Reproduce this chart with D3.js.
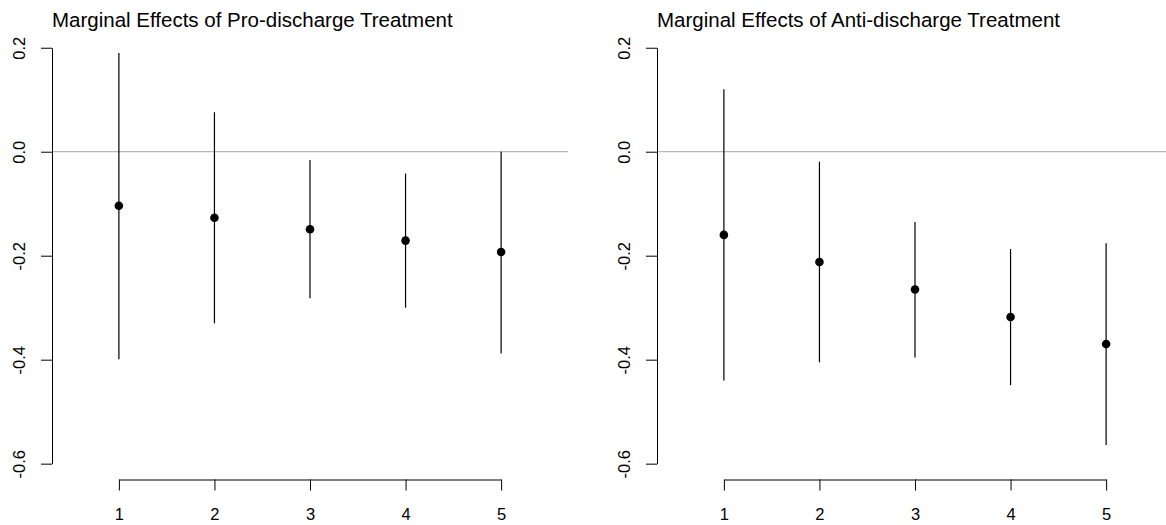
<!DOCTYPE html>
<html>
<head>
<meta charset="utf-8">
<script src="https://cdn.jsdelivr.net/npm/d3@7"></script>
<style>
  body { margin: 0; background: #fff; }
  svg { display: block; }
</style>
</head>
<body>
<div id="chart"></div>
<script>
// values
const groups = [1, 2, 3, 4, 5];
const proEst = [-0.104, -0.127, -0.149, -0.171, -0.193];
const proLo = [-0.399, -0.330, -0.282, -0.300, -0.388];
const proHi = [0.190, 0.076, -0.016, -0.042, 0.000];
const antiEst = [-0.160, -0.212, -0.265, -0.318, -0.370];
const antiLo = [-0.440, -0.405, -0.396, -0.449, -0.564];
const antiHi = [0.120, -0.019, -0.135, -0.187, -0.176];
const titles = ["Marginal Effects of Pro-discharge Treatment", "Marginal Effects of Anti-discharge Treatment"];
const yTicks = [-0.6, -0.4, -0.2, 0.0, 0.2];
const xTicks = [1, 2, 3, 4, 5];

const W = 1166, H = 525;
const FONT = "'Liberation Sans', Arial, Helvetica, sans-serif";
const PANEL_W = 516;
const PANEL_OFFSET = 605;
const TICK = 11;

const svg = d3.select("#chart").append("svg")
  .attr("width", W)
  .attr("height", H);

const fmt = v => d3.format(".1f")(v).replace("\u2212", "-");

function drawPanel(i, est, lo, hi) {
  const left = 52 + i * PANEL_OFFSET;
  const g = svg.append("g");

  const x = d3.scaleLinear().domain([0.3, 5.7]).range([left, left + PANEL_W]);
  const y = d3.scaleLinear().domain([-0.632, 0.232]).range([480.3, 31.1]);

  // axes only span the tick range, like base R
  const xAx = x.copy().domain([1, 5]).range([x(1), x(5)]);
  const yAx = y.copy().domain([-0.6, 0.2]).range([y(-0.6), y(0.2)]);

  // reference line at zero
  g.append("line")
    .attr("x1", left).attr("x2", left + PANEL_W)
    .attr("y1", y(0)).attr("y2", y(0))
    .attr("stroke", "#a6a6a6")
    .attr("stroke-width", 1);

  const yAxis = g.append("g")
    .attr("transform", `translate(${left},0)`)
    .call(d3.axisLeft(yAx).tickValues(yTicks).tickSize(TICK).tickSizeOuter(0).tickFormat(fmt));
  yAxis.selectAll("text").remove();
  yAxis.selectAll(".tick").append("text")
    .attr("transform", "translate(-27,0) rotate(-90)")
    .attr("text-anchor", "middle")
    .attr("fill", "#000")
    .attr("font-size", "16.5px")
    .attr("font-family", FONT)
    .text(d => fmt(d));

  const xAxis = g.append("g")
    .attr("transform", `translate(0,479.5)`)
    .call(d3.axisBottom(xAx).tickValues(xTicks).tickSize(TICK).tickSizeOuter(0).tickFormat(d3.format("d")));
  xAxis.selectAll("text")
    .attr("y", 0)
    .attr("dy", 0)
    .attr("transform", "translate(0,40)")
    .attr("fill", "#000")
    .attr("font-size", "16.5px")
    .attr("font-family", FONT);

  [yAxis, xAxis].forEach(a => {
    a.select(".domain").attr("stroke", "#000").attr("stroke-width", 1);
    a.selectAll(".tick line").attr("stroke", "#000").attr("stroke-width", 1);
  });

  // confidence intervals
  g.selectAll("line.ci")
    .data(groups)
    .enter().append("line")
    .attr("class", "ci")
    .attr("x1", d => x(d)).attr("x2", d => x(d))
    .attr("y1", (d, k) => y(lo[k])).attr("y2", (d, k) => y(hi[k]))
    .attr("stroke", "#000")
    .attr("stroke-width", 1.2);

  // point estimates
  g.selectAll("circle.pt")
    .data(groups)
    .enter().append("circle")
    .attr("class", "pt")
    .attr("cx", d => x(d))
    .attr("cy", (d, k) => y(est[k]))
    .attr("r", 4.3)
    .attr("fill", "#000");

  g.append("text")
    .attr("x", left)
    .attr("y", 27)
    .attr("font-size", "20.5px")
    .attr("font-family", FONT)
    .attr("fill", "#000")
    .text(titles[i]);
}

drawPanel(0, proEst, proLo, proHi);
drawPanel(1, antiEst, antiLo, antiHi);
</script>
</body>
</html>
